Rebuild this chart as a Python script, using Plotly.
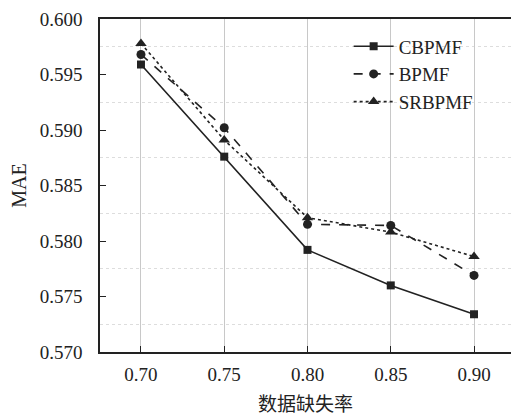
import plotly.graph_objects as go

missing_rate = [0.70, 0.75, 0.80, 0.85, 0.90]
cbpmf = [0.5959, 0.5876, 0.5792, 0.5760, 0.5734]
bpmf = [0.5968, 0.5902, 0.5815, 0.5814, 0.5769]
srbpmf = [0.5978, 0.5891, 0.5821, 0.5808, 0.5786]
x_ticks = [0.70, 0.75, 0.80, 0.85, 0.90]
x_tick_labels = ["0.70", "0.75", "0.80", "0.85", "0.90"]
y_ticks = [0.570, 0.575, 0.580, 0.585, 0.590, 0.595, 0.600]
y_tick_labels = ["0.570", "0.575", "0.580", "0.585", "0.590", "0.595", "0.600"]

fig = go.Figure()
fig.add_trace(go.Scatter(x=missing_rate, y=cbpmf, name="CBPMF", mode="lines+markers",
                         line=dict(color="#222", width=1.6, dash="solid"),
                         marker=dict(symbol="square", size=8, color="#222")))
fig.add_trace(go.Scatter(x=missing_rate, y=bpmf, name="BPMF", mode="lines+markers",
                         line=dict(color="#222", width=1.6, dash="dash"),
                         marker=dict(symbol="circle", size=9, color="#222")))
fig.add_trace(go.Scatter(x=missing_rate, y=srbpmf, name="SRBPMF", mode="lines+markers",
                         line=dict(color="#222", width=1.6, dash="dot"),
                         marker=dict(symbol="triangle-up", size=10, color="#222")))

serif = "Liberation Serif"
fig.update_layout(
    width=511, height=417,
    margin=dict(l=100, r=0, t=19, b=65),
    paper_bgcolor="white", plot_bgcolor="white",
    font=dict(family=serif, size=19, color="#222"),
    showlegend=True,
    legend=dict(x=0.605, y=0.975, xanchor="left", yanchor="top",
                bgcolor="rgba(0,0,0,0)", font=dict(family=serif, size=19, color="#222"),
                tracegroupgap=0, itemwidth=40),
    xaxis=dict(range=[0.6754, 0.9222], tickmode="array", tickvals=x_ticks, ticktext=x_tick_labels,
               ticks="inside", ticklen=6, tickcolor="#222", showline=True, linecolor="#222",
               linewidth=1.5, mirror=True, showgrid=True, gridcolor="#c8c8c8", gridwidth=1.2,
               zeroline=False, ticklabelstandoff=4, automargin=False,
               tickfont=dict(family=serif, size=19, color="#222"),
               title=dict(text="数据缺失率", font=dict(family="Noto Sans CJK SC", size=19, color="#222"),
                          standoff=14)),
    yaxis=dict(range=[0.570, 0.600], tickmode="array", tickvals=y_ticks, ticktext=y_tick_labels,
               ticks="inside", ticklen=6, tickcolor="#222", showline=True, linecolor="#222",
               linewidth=1.5, showgrid=False, zeroline=False, ticklabelstandoff=12, automargin=False,
               tickfont=dict(family=serif, size=19, color="#222"),
               minor=dict(tick0=0.5725, dtick=0.005, showgrid=True, gridcolor="#dddddd",
                          griddash="dot", gridwidth=1, ticks=""),
               title=dict(text="MAE", font=dict(family=serif, size=20, color="#222"), standoff=8)),
)

fig.write_html("out.html", config={"displayModeBar": False},
               post_script="document.body.style.margin='0';document.body.style.padding='0';")
